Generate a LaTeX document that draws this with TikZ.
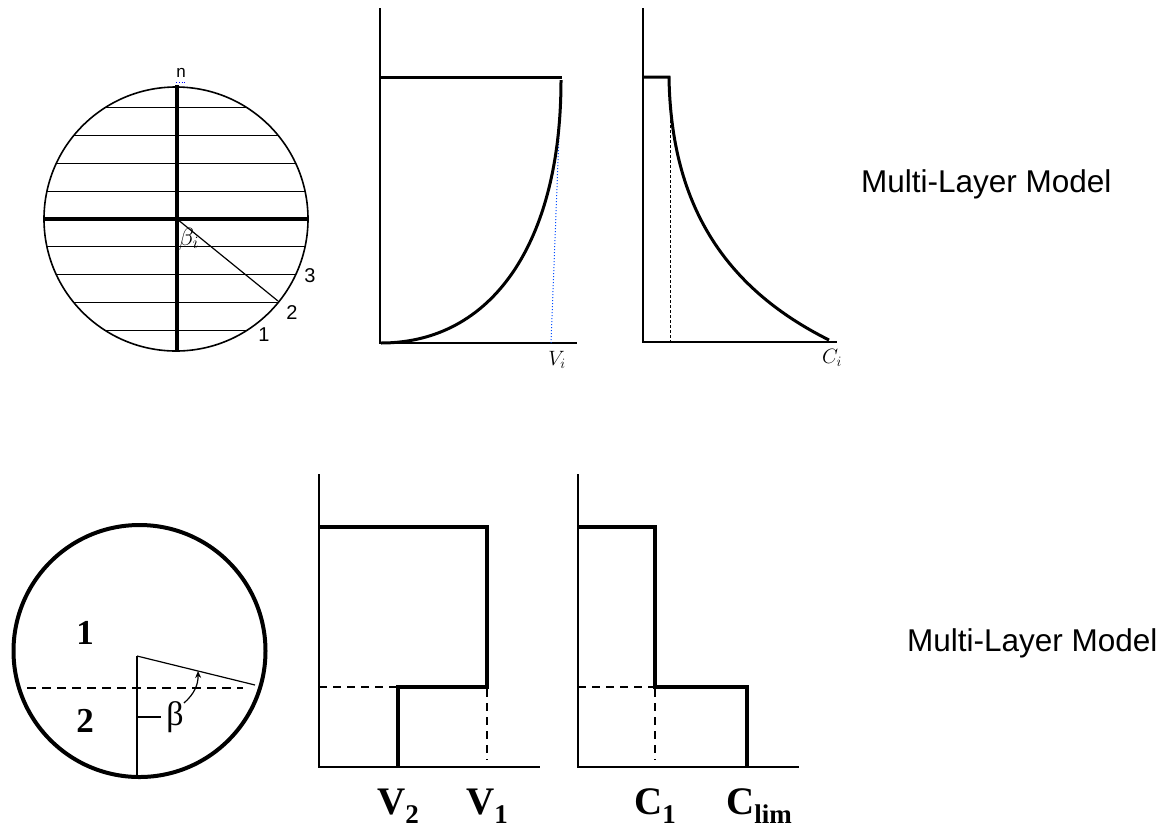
\documentclass[tikz,border=0pt]{standalone}
\usepackage{fontspec}
\setmainfont{Liberation Serif}
\newfontfamily\arialf{Liberation Sans}
\usetikzlibrary{arrows.meta}
\newcommand{\lowsub}[1]{\raisebox{-0.24em}{\fontsize{27}{27}\selectfont #1}}
\begin{document}
\begin{tikzpicture}[x=1pt,y=-1pt,
  axis/.style={line width=2.2pt},
  curveline/.style={line width=3pt},
  dashline/.style={line width=2pt,dash pattern=on 8pt off 6pt},
  thinline/.style={line width=1.2pt},
  smalllab/.style={font=\arialf\fontsize{20}{20}\selectfont, inner sep=0pt},
  biglab/.style={font=\bfseries\fontsize{39}{39}\selectfont, inner sep=0pt, anchor=base west},
  circlab/.style={font=\bfseries\fontsize{35}{35}\selectfont, inner sep=0pt},
  title/.style={font=\arialf\fontsize{31.5}{36}\selectfont, inner sep=0pt, anchor=base west}
]
\useasboundingbox (0,0) rectangle (1169,831);
\fill[white] (0,0) rectangle (1169,831);

% ---------- top left circle ----------
\coordinate (tc) at (176,219);
\draw[line width=1.6pt] (tc) circle[radius=132pt];
\foreach \d in {-4,-3,-2,-1,1,2,3,4} {
  \pgfmathsetmacro\hw{100*sqrt(1.32*1.32-(0.278*\d)*(0.278*\d))}
  \draw[thinline] ({176-\hw},{219+27.8*\d}) -- ({176+\hw},{219+27.8*\d});
}
\draw[line width=3.5pt] (177,85) -- (177,352);
\draw[line width=3.5pt] (44,219) -- (308,219);
\coordinate (p2) at (278,301);
\draw[thinline] (177,219) -- (p2);
\node[font=\fontsize{24}{24}\selectfont, inner sep=0pt] (bi) at (189,239) {$\beta_i$};
\node[smalllab] (l3) at (310,276) {3};
\node[smalllab] (l2) at (292,313) {2};
\node[smalllab] (l1) at (264,335) {1};
\node[smalllab, font=\arialf\fontsize{17}{17}\selectfont] (ln) at (181,73) {n};
\draw[blue, dotted, line width=0.8pt] (176,82) -- (187,82);

% ---------- top middle chart ----------
\coordinate (a1o) at (380,343);
\draw[axis] (380,8) -- (a1o) -- (577,343);
\draw[curveline] (380,77) -- (562,77);
\draw[blue!70!cyan, dotted, line width=1pt] (551,343) -- (559,135);
\draw[curveline] (381,343) .. controls (492,343) and (561,243) .. (561,80);
\node[font=\fontsize{21}{21}\selectfont, inner sep=0pt] (vi) at (557,360) {$V_i$};

% ---------- top right chart ----------
\coordinate (a2o) at (643,342);
\draw[axis] (643,8) -- (a2o) -- (837,342);
\draw[line width=1pt, dash pattern=on 3pt off 2pt] (670,120) -- (670,342);
\draw[curveline] (643,77) -- (669,77) .. controls (671,210) and (729,290) .. (829,340);
\node[font=\fontsize{21}{21}\selectfont, inner sep=0pt] (ci) at (832,358) {$C_i$};

% ---------- titles ----------
\node[title] (t1) at (861,192) {Multi-Layer Model};
\node[title] (t2) at (907,651) {Multi-Layer Model};

% ---------- bottom left circle ----------
\coordinate (bc) at (139.5,651);
\draw[line width=4pt] (bc) circle[radius=126pt];
\draw[line width=2.5pt, dash pattern=on 9pt off 6pt] (27,688) -- (243,688);
\coordinate (bo) at (137,656);
\draw[line width=1.2pt] (bo) -- (137,777);
\draw[line width=1.2pt] (bo) -- (255,685);
\draw[line width=1.2pt] (137,717) -- (161,717);
\node[font=\fontsize{34}{34}\selectfont, inner sep=0pt] (beta) at (175,717) {β};
\draw[line width=1.2pt, -{Stealth[length=7pt,width=6pt]}] (184,703) to[bend right=25] (198,671);
\node[circlab] (n1) at (85,633) {1};
\node[circlab] (n2) at (85,721) {2};

% ---------- bottom middle chart ----------
\draw[axis] (319,474) -- (319,767) -- (540,767);
\draw[line width=3.8pt] (319,527) -- (487,527) -- (487,687) -- (398,687) -- (398,767);
\draw[dashline] (319,687) -- (396,687);
\draw[dashline] (487,689) -- (487,760);
\node[biglab] (v2) at (377,814) {V\lowsub{2}};
\node[biglab] (v1) at (466,814) {V\lowsub{1}};

% ---------- bottom right chart ----------
\draw[axis] (578,474) -- (578,767) -- (799,767);
\draw[line width=3.8pt] (578,527) -- (655,527) -- (655,687) -- (747,687) -- (747,767);
\draw[dashline] (578,687) -- (653,687);
\draw[dashline] (655,689) -- (655,760);
\node[biglab] (c1) at (634,814) {C\lowsub{1}};
\node[biglab] (cl) at (726,814) {C\lowsub{lim}};
\end{tikzpicture}
\end{document}
